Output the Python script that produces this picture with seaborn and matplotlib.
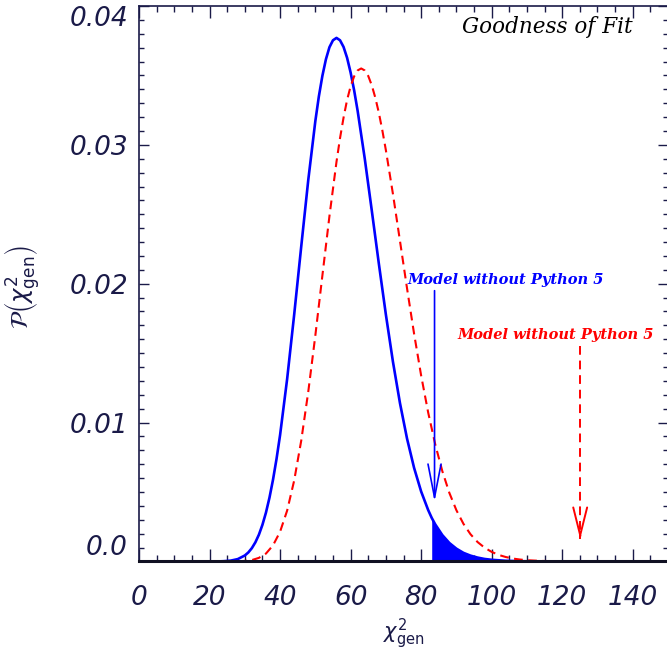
# goodness of fit: distribuicao do chi2 generalizado para os dois modelos
import matplotlib
matplotlib.use("Agg")
import matplotlib.pyplot as plt
from matplotlib.ticker import MultipleLocator, FixedLocator, FixedFormatter
import numpy as np
import seaborn as sns

# curva azul
azul_x = [0, 18, 20, 22, 24, 26, 28, 30, 31, 32, 33, 34, 35, 36, 37, 38, 39, 40,
          42, 44, 46, 48, 50, 51, 52, 53, 54, 55, 56, 57, 58, 59, 60, 61, 62,
          64, 66, 68, 70, 72, 74, 76, 78, 80, 82, 83, 84,
          86, 88, 90, 92, 94, 96, 98, 100, 104, 108, 112, 116, 150]
azul_y = [0, 0, 0, 0, 0.00002, 0.00006, 0.00017, 0.00043, 0.00065, 0.00096,
          0.00138, 0.00193, 0.00264, 0.00352, 0.00460, 0.00589, 0.00739, 0.00910,
          0.01313, 0.01777, 0.02268, 0.02748, 0.03171, 0.03349, 0.03497, 0.03616,
          0.03703, 0.03753, 0.03770, 0.03753, 0.03705, 0.03627, 0.03521, 0.03393,
          0.03244,
          0.02903, 0.02528, 0.02146, 0.01778, 0.01439, 0.01140, 0.00885, 0.00674,
          0.00504, 0.00370, 0.00314, 0.00267,
          0.00190, 0.00133, 0.00092, 0.00062, 0.00042, 0.00028, 0.00018, 0.00012,
          0.00005, 0.00002, 0.00001, 0, 0]

# curva vermelha tracejada
verm_x = [0, 26, 28, 30, 32, 34, 36, 38, 40, 42, 44, 46, 48, 50, 52, 54,
          56, 57, 58, 59, 60, 61, 62, 63, 64, 65, 66, 67, 68, 69, 70,
          72, 74, 76, 78, 80, 82, 84, 86, 88, 90, 92, 94, 96, 98, 100,
          102, 104, 106, 108, 110, 114, 118, 122, 150]
verm_y = [0, 0, 0.00001, 0.00004, 0.00010, 0.00026, 0.00057, 0.00116, 0.00214,
          0.00366, 0.00583, 0.00870, 0.01223, 0.01627, 0.02059, 0.02487,
          0.02878, 0.03048, 0.03196, 0.03323, 0.03421, 0.03493, 0.03536, 0.03550,
          0.03536, 0.03496, 0.03429, 0.03340, 0.03232, 0.03104, 0.02962,
          0.02647, 0.02308, 0.01967, 0.01640, 0.01339, 0.01072, 0.00843, 0.00651,
          0.00494, 0.00369, 0.00271, 0.00196, 0.00140, 0.00099, 0.00069,
          0.00047, 0.00032, 0.00021, 0.00014, 0.00009, 0.00004, 0.00002, 0.00001, 0]

corte_x = 83  # inicio da area sombreada (valor observado)

# setas: x, topo, ponta
seta_azul = [83.8, 0.0195, 0.0043]
seta_verm = [125.1, 0.0155, 0.0016]

texto_azul = "Model without Python 5"
texto_verm = "Model without Python 5"
titulo = "Goodness of Fit"

xticks = [0, 20, 40, 60, 80, 100, 120, 140]
yticks = [0.0, 0.01, 0.02, 0.03, 0.04]
ytick_labels = ["0.0", "0.01", "0.02", "0.03", "0.04"]

navy = "#1a1a48"
azul = "#0000ff"
verm = "#ff0000"

sns.set_style("ticks")
plt.rcParams["mathtext.fontset"] = "dejavusans"

fig = plt.figure(figsize=(6.67, 6.56), dpi=100)
ax = fig.add_axes([0.2084, 0.1441, 0.7931, 0.8468])

sns.lineplot(x=azul_x, y=azul_y, color=azul, lw=1.9, estimator=None, ax=ax)
sns.lineplot(x=verm_x, y=verm_y, color=verm, lw=1.5, estimator=None,
             linestyle=(0, (4.2, 2.6)), ax=ax)

# area sombreada depois do chi2 observado
ax_arr = np.array(azul_x)
ay_arr = np.array(azul_y)
m = ax_arr >= corte_x
ax.fill_between(ax_arr[m], ay_arr[m], 0, color=azul, lw=0)

# seta azul
ax.annotate("", xy=(seta_azul[0], seta_azul[2]), xytext=(seta_azul[0], seta_azul[1]),
            arrowprops=dict(arrowstyle="->,head_length=2.4,head_width=0.47",
                            color=azul, lw=1.2, shrinkA=0, shrinkB=0))
# seta vermelha (haste tracejada, cabeca cheia)
ax.plot([seta_verm[0], seta_verm[0]], [seta_verm[1], seta_verm[2]], color=verm,
        lw=1.4, linestyle=(0, (4.5, 3)))
ax.annotate("", xy=(seta_verm[0], seta_verm[2]), xytext=(seta_verm[0], seta_verm[2] + 0.0003),
            arrowprops=dict(arrowstyle="->,head_length=2.0,head_width=0.5",
                            color=verm, lw=1.4, shrinkA=0, shrinkB=0))

fonte_txt = dict(family="DejaVu Serif", style="italic", weight="bold", fontsize=10.5)
ax.text(76, 0.0203, texto_azul, color=azul, ha="left", va="center", **fonte_txt)
ax.text(90.2, 0.01634, texto_verm, color=verm, ha="left", va="center", **fonte_txt)
ax.text(140, 0.0385, titulo, color="black", ha="right", va="center",
        family="DejaVu Serif", style="italic", fontsize=15.5)

ax.set_xlim(0, 150)
ax.set_ylim(0, 0.04)
ax.xaxis.set_major_locator(FixedLocator(xticks))
ax.xaxis.set_minor_locator(MultipleLocator(5))
ax.yaxis.set_major_locator(FixedLocator(yticks))
ax.yaxis.set_major_formatter(FixedFormatter(ytick_labels))
ax.yaxis.set_minor_locator(MultipleLocator(0.001))

ax.tick_params(axis="x", which="major", direction="in", length=8.5, width=1,
               top=True, color=navy, pad=17)
ax.tick_params(axis="x", which="minor", direction="in", length=4.5, width=1,
               top=True, color=navy)
ax.tick_params(axis="y", which="major", direction="in", length=7, width=1,
               right=True, color=navy, pad=8)
ax.tick_params(axis="y", which="minor", direction="in", length=3.6, width=1,
               right=True, color=navy)
for lab in ax.get_xticklabels() + ax.get_yticklabels():
    lab.set_fontsize(19)
    lab.set_fontstyle("italic")
    lab.set_color(navy)
# como no IDL, os rotulos das pontas ficam dentro do eixo
ylabs = ax.get_yticklabels()
ylabs[0].set_va("bottom")
ylabs[-1].set_va("top")

for s in ["left", "right", "top"]:
    ax.spines[s].set_color(navy)
    ax.spines[s].set_linewidth(1.2)
ax.spines["bottom"].set_color("#111122")
ax.spines["bottom"].set_linewidth(2.2)

ax.set_xlabel(r"$\chi^{2}_{\rm gen}$", fontsize=15, color=navy)
ax.xaxis.set_label_coords(0.5, -0.1)
ax.set_ylabel(r"$\mathcal{P}\left(\chi^{2}_{\rm gen}\right)$", fontsize=17.5, color=navy)
ax.yaxis.label.set_va("center")
ax.yaxis.set_label_coords(-0.221, 0.494)

fig.savefig("out.png", dpi=100)
